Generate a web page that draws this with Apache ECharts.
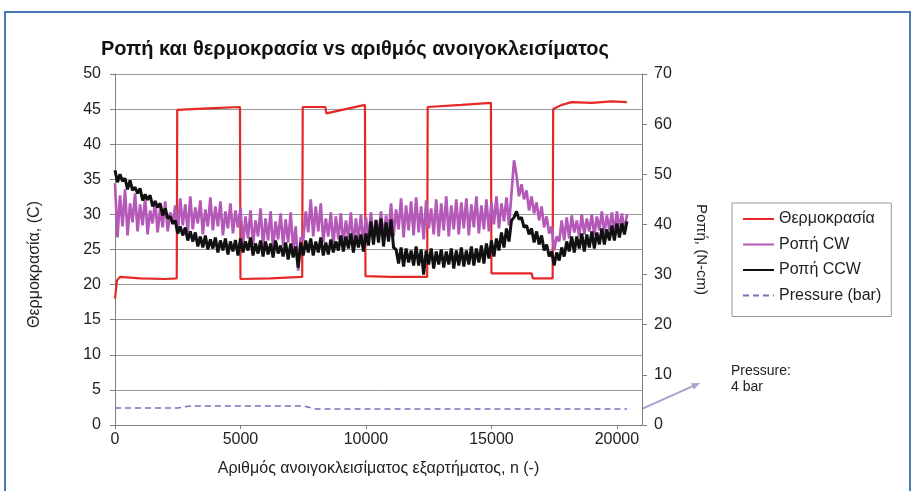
<!DOCTYPE html>
<html>
<head>
<meta charset="utf-8">
<script src="https://cdn.jsdelivr.net/npm/echarts@6.0.0/dist/echarts.min.js"></script>
<style>
html, body { margin: 0; padding: 0; background: #fff; }
#chart { width: 915px; height: 491px; }
</style>
</head>
<body>
<div id="chart"></div>
<script>
// temperature (left axis, C) - step profile
var tempN = [0, 80, 200, 1000, 2000, 2460, 2480, 3700, 4980, 5000, 6200, 7460, 7480, 8380, 8420, 9960, 9980,
  11000, 12440, 12460, 13800, 14980, 15000, 16600, 16650, 17440, 17460, 17800, 18200, 19000, 19800, 20400]
var tempC = [18.0, 20.6, 21.1, 20.9, 20.8, 20.9, 44.9, 45.1, 45.3, 20.8, 20.9, 21.1, 45.3, 45.3, 44.4, 45.6, 21.2,
  21.1, 21.1, 45.3, 45.6, 45.9, 21.6, 21.6, 20.9, 20.9, 45.0, 45.6, 46.0, 45.9, 46.1, 46.0]

// torque readings every 100 cycles (right axis, N-cm)
var torqueStep = 100
var torqueCW = [
  48.2, 37.4, 45.8, 39.6, 47.0, 37.8, 44.2, 40.4, 46.2, 38.6,
  44.0, 39.8, 45.4, 38.0, 42.8, 40.2, 44.8, 38.4, 43.2, 39.4,
  44.6, 38.6, 42.4, 40.0, 43.8, 38.2, 45.2, 39.8, 44.0, 38.4,
  45.6, 39.0, 43.4, 40.2, 44.8, 38.0, 43.0, 39.6, 45.4, 38.8,
  43.6, 39.6, 44.6, 37.8, 42.6, 39.2, 44.2, 38.2, 42.8, 39.4,
  43.4, 35.8, 41.6, 37.2, 42.8, 36.0, 40.8, 37.6, 43.2, 35.6,
  41.2, 36.8, 42.6, 35.2, 40.6, 37.0, 42.2, 35.8, 41.0, 36.4,
  42.4, 35.0, 39.6, 30.8, 37.4, 36.8, 42.6, 38.4, 45.0, 37.6,
  43.6, 38.6, 44.2, 36.4, 41.2, 37.6, 42.4, 35.8, 41.6, 37.0,
  42.2, 36.0, 40.8, 37.2, 42.4, 35.6, 41.2, 36.8, 42.0, 36.2,
  41.4, 37.4, 42.4, 36.8, 41.0, 38.0, 42.6, 37.2, 41.8, 38.4,
  44.2, 37.6, 43.0, 39.0, 45.2, 37.4, 43.8, 38.8, 44.6, 37.8,
  45.4, 38.4, 43.6, 37.0, 44.8, 39.2, 43.2, 38.0, 45.0, 37.6,
  44.2, 38.8, 45.6, 37.6, 43.8, 39.0, 45.0, 38.0, 44.4, 39.2,
  45.2, 37.8, 44.0, 39.4, 45.6, 38.2, 43.8, 39.0, 45.0, 38.6,
  44.4, 40.0, 45.6, 39.2, 44.2, 40.6, 45.4, 39.8, 46.2, 52.8,
  49.8, 45.6, 48.0, 45.0, 46.8, 42.8, 45.6, 42.2, 44.4, 40.8,
  43.6, 39.4, 41.6, 38.2, 39.6, 34.8, 37.6, 36.6, 40.8, 36.8,
  41.4, 37.2, 41.8, 38.4, 40.8, 37.6, 42.0, 38.0, 41.2, 38.6,
  42.0, 37.8, 41.6, 38.8, 42.6, 38.2, 41.8, 39.0, 42.4, 38.4,
  42.6, 39.2, 42.2, 38.6, 42.0
]
var torqueCCW = [
  50.8, 48.4, 50.0, 48.6, 49.2, 47.0, 48.8, 46.8, 47.4, 46.2,
  47.2, 44.8, 46.0, 44.9, 45.8, 43.6, 44.6, 43.4, 44.2, 41.8,
  43.2, 41.2, 41.6, 40.2, 40.8, 38.2, 39.6, 37.8, 39.4, 36.8,
  38.6, 36.6, 38.4, 35.6, 37.6, 35.4, 37.8, 35.0, 37.0, 35.2,
  37.4, 34.4, 36.8, 34.8, 37.2, 34.0, 36.6, 34.6, 36.9, 33.8,
  37.2, 34.4, 36.6, 34.8, 37.4, 33.8, 36.2, 34.2, 36.8, 33.6,
  36.6, 34.0, 36.2, 33.4, 36.8, 34.2, 35.8, 33.6, 36.4, 33.0,
  36.2, 33.4, 35.6, 31.4, 36.4, 33.8, 36.8, 34.4, 37.2, 33.8,
  36.6, 34.4, 37.4, 33.8, 36.4, 34.0, 37.0, 34.4, 36.6, 34.8,
  37.8, 34.6, 37.6, 35.2, 38.2, 34.4, 37.8, 35.4, 38.0, 34.6,
  38.2, 35.8, 40.6, 36.0, 40.8, 36.4, 41.2, 35.6, 40.4, 36.6,
  41.0, 35.4, 35.0, 32.2, 35.4, 31.6, 35.2, 32.4, 34.8, 31.8,
  35.6, 31.8, 35.0, 30.0, 34.8, 32.0, 35.2, 31.2, 34.6, 32.0,
  35.0, 31.4, 34.6, 32.0, 35.2, 31.2, 34.8, 31.8, 35.4, 31.6,
  34.8, 32.0, 35.6, 31.8, 35.2, 32.4, 35.8, 32.2, 36.2, 33.2,
  36.8, 33.6, 37.2, 34.8, 38.4, 35.4, 39.2, 36.6, 40.8, 41.4,
  42.6, 41.0, 41.4, 39.4, 39.8, 38.0, 39.2, 36.4, 38.6, 36.0,
  37.8, 34.8, 36.0, 33.6, 34.6, 31.8, 34.4, 32.8, 35.4, 33.6,
  36.6, 34.6, 37.6, 34.4, 37.6, 35.2, 38.2, 34.6, 38.0, 35.4,
  38.6, 35.2, 38.4, 36.0, 39.2, 36.0, 39.0, 36.8, 39.8, 36.8,
  40.2, 37.4, 40.2, 38.0, 40.6
]

// pressure (bar), plotted against the right axis
var pressN = [0, 2500, 3000, 7500, 8000, 20400]
var pressV = [3.4, 3.4, 3.8, 3.8, 3.2, 3.2]

var seriesNames = ['Θερμοκρασία', 'Ροπή CW', 'Ροπή CCW', 'Pressure (bar)']
var font = 'Liberation Sans, Arial, sans-serif'

function pairs (xs, ys) {
  return xs.map(function (x, i) { return [x, ys[i]] })
}
function stepped (ys) {
  return ys.map(function (y, i) { return [i * torqueStep, y] })
}

var chart = echarts.init(document.getElementById('chart'))

var option = {
  animation: false,
  backgroundColor: '#fff',
  textStyle: { fontFamily: font },
  title: {
    text: 'Ροπή και θερμοκρασία vs αριθμός ανοιγοκλεισίματος',
    left: 96,
    top: 34,
    textStyle: { fontSize: 20, fontWeight: 'bold', color: '#111', fontFamily: font }
  },
  legend: {
    data: seriesNames,
    orient: 'vertical',
    left: 732,
    top: 203,
    padding: [8, 10, 13, 10],
    itemGap: 9.5,
    itemWidth: 31,
    itemHeight: 12,
    borderColor: '#999',
    borderWidth: 1,
    itemStyle: { opacity: 0 },
    lineStyle: { width: 2 },
    textStyle: { fontSize: 16, color: '#222', fontFamily: font }
  },
  grid: { left: 115, right: 273, top: 74, bottom: 66 },
  xAxis: {
    type: 'value',
    min: 0,
    max: 21000,
    interval: 5000,
    name: 'Αριθμός ανοιγοκλεισίματος εξαρτήματος, n (-)',
    nameLocation: 'middle',
    nameGap: 36,
    nameTextStyle: { fontSize: 16, color: '#222' },
    axisLine: { lineStyle: { color: '#808080' } },
    axisTick: { length: 4, lineStyle: { color: '#808080' } },
    axisLabel: {
      fontSize: 16, color: '#222', margin: 7, showMaxLabel: false,
      formatter: function (v) { return String(v) }
    },
    splitLine: { show: false }
  },
  yAxis: [{
    type: 'value',
    position: 'left',
    min: 0,
    max: 50,
    interval: 5,
    name: 'Θερμοκρασία, (C)',
    nameLocation: 'middle',
    nameGap: 72,
    nameTextStyle: { fontSize: 16, color: '#222', padding: [0, 30, 0, 0] },
    axisLine: { show: true, lineStyle: { color: '#808080' } },
    axisTick: { show: true, length: 5, lineStyle: { color: '#808080' } },
    axisLabel: { fontSize: 16, color: '#222', margin: 14 },
    splitLine: { show: true, lineStyle: { color: '#999', width: 1 } }
  }, {
    type: 'value',
    position: 'right',
    min: 0,
    max: 70,
    interval: 10,
    name: 'Ροπή, (N-cm)',
    nameLocation: 'middle',
    nameRotate: -90,
    nameGap: 52,
    nameTextStyle: { fontSize: 15, color: '#222' },
    axisLine: { show: true, lineStyle: { color: '#808080' } },
    axisTick: { show: true, length: 5, lineStyle: { color: '#808080' } },
    axisLabel: { fontSize: 16, color: '#222', margin: 12 },
    splitLine: { show: false }
  }],
  series: [{
    name: seriesNames[0],
    type: 'line',
    yAxisIndex: 0,
    data: pairs(tempN, tempC),
    symbol: 'none',
    color: '#e52727',
    lineStyle: { width: 2.2, color: '#e52727' }
  }, {
    name: seriesNames[1],
    type: 'line',
    yAxisIndex: 1,
    data: stepped(torqueCW),
    symbol: 'none',
    color: '#b459b8',
    lineStyle: { width: 2.7, color: '#b459b8' }
  }, {
    name: seriesNames[2],
    type: 'line',
    yAxisIndex: 1,
    data: stepped(torqueCCW),
    symbol: 'none',
    color: '#111',
    lineStyle: { width: 3, color: '#111' }
  }, {
    name: seriesNames[3],
    type: 'line',
    yAxisIndex: 1,
    data: pairs(pressN, pressV),
    symbol: 'none',
    color: '#7373bf',
    lineStyle: { width: 1.5, color: '#7373bf', type: [6, 4] }
  }]
}
chart.setOption(option)

// outer frame, note text and arrow pointing at the pressure line
var start = chart.convertToPixel({ xAxisIndex: 0, yAxisIndex: 1 }, [21000, pressV[pressV.length - 1]])
var tip = [700, 383]
var ang = Math.atan2(tip[1] - start[1], tip[0] - start[0])
var head = 9
chart.setOption({
  graphic: [{
    type: 'rect',
    shape: { x: 5, y: 12, width: 905, height: 500 },
    style: { fill: 'none', stroke: '#4a78b4', lineWidth: 2 },
    silent: true
  }, {
    type: 'text',
    left: 731,
    top: 363,
    style: { text: 'Pressure:\n4 bar', fontSize: 14, lineHeight: 16, fill: '#222', fontFamily: font }
  }, {
    type: 'line',
    shape: { x1: start[0], y1: start[1], x2: tip[0] - 6 * Math.cos(ang), y2: tip[1] - 6 * Math.sin(ang) },
    style: { stroke: '#a3a3cc', lineWidth: 2 }
  }, {
    type: 'polygon',
    shape: {
      points: [
        tip,
        [tip[0] - head * Math.cos(ang - 0.4), tip[1] - head * Math.sin(ang - 0.4)],
        [tip[0] - head * Math.cos(ang + 0.4), tip[1] - head * Math.sin(ang + 0.4)]
      ]
    },
    style: { fill: '#a3a3cc' }
  }]
})
</script>
</body>
</html>
